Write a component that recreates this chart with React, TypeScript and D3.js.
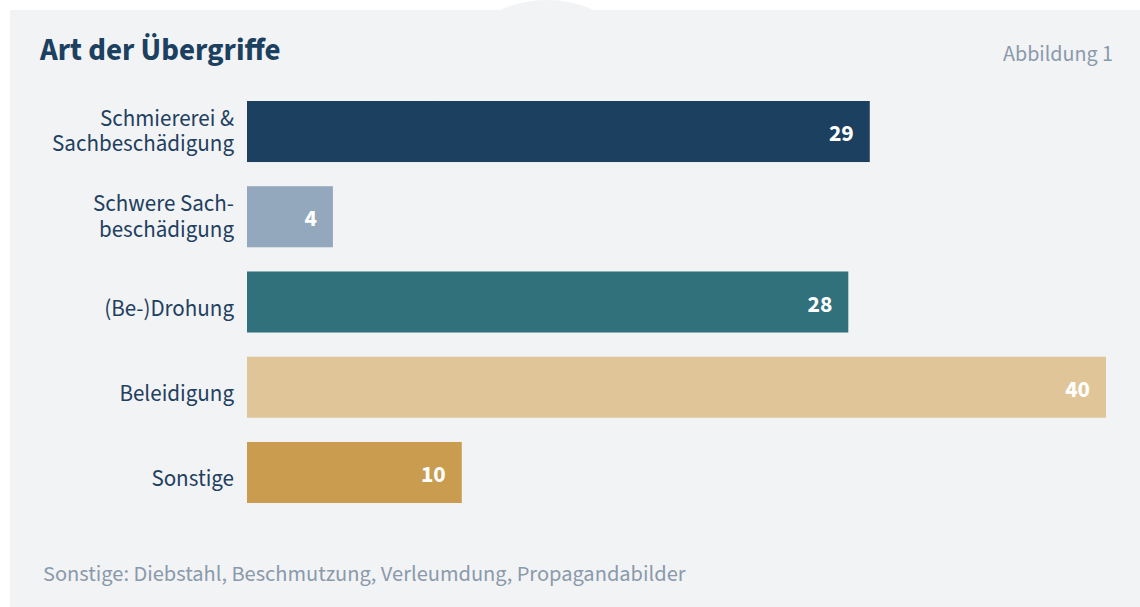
import React from "react";
import * as d3 from "d3";

const categories: string[][] = [
  ["Schmiererei &", "Sachbeschädigung"],
  ["Schwere Sach-", "beschädigung"],
  ["(Be-)Drohung"],
  ["Beleidigung"],
  ["Sonstige"],
];
const values: number[] = [29, 4, 28, 40, 10];
const colors: string[] = ["#1c4060", "#93a8bc", "#30717b", "#e0c598", "#c99c4f"];
const title = "Art der Übergriffe";
const figureLabel = "Abbildung 1";
const footnote = "Sonstige: Diebstahl, Beschmutzung, Verleumdung, Propagandabilder";

const W = 1140;
const H = 607;
const FONT = "'Source Sans Pro', 'Source Sans 3', Lato, 'Noto Sans', sans-serif";

export default function App() {
  const ids = categories.map((_, i) => String(i));
  const x = d3.scaleLinear().domain([0, 40]).range([247, 1106]);
  const y = d3
    .scaleBand<string>()
    .domain(ids)
    .range([88.9, 515.1])
    .paddingInner(0.284)
    .paddingOuter(0.142);

  return (
    <svg
      width={W}
      height={H}
      style={{ position: "absolute", left: 0, top: 0, background: "#ffffff" }}
      fontFamily={FONT}
    >
      <rect x={10} y={10} width={W - 10} height={H - 10} fill="#f2f3f5" />
      <circle cx={547} cy={115} r={115} fill="#f2f3f5" />
      <text x={40} y={60} fontSize={31} fontWeight={700} fill="#1c4060">
        {title}
      </text>
      <text x={1113} y={61} fontSize={22} textAnchor="end" fill="#8a9aab">
        {figureLabel}
      </text>
      {values.map((v, i) => {
        const yy = y(ids[i])!;
        const bh = y.bandwidth();
        const cy = yy + bh / 2;
        const lines = categories[i];
        const lh = 25.5;
        const off = lines.length === 1 ? 13.5 : 7;
        const y0 = cy + off - ((lines.length - 1) / 2) * lh;
        return (
          <g key={i}>
            <rect x={x(0)} y={yy} width={x(v) - x(0)} height={bh} fill={colors[i]} />
            <text
              x={x(v) - 16}
              y={cy + 9.5}
              textAnchor="end"
              fontSize={23.5}
              fontWeight={700}
              fill="#ffffff"
            >
              {v}
            </text>
            <text x={234} y={y0} textAnchor="end" fontSize={23} fill="#1f4060">
              {lines.map((ln, j) => (
                <tspan key={j} x={234} dy={j === 0 ? 0 : lh}>
                  {ln}
                </tspan>
              ))}
            </text>
          </g>
        );
      })}
      <text x={43} y={581} fontSize={22.4} fill="#8a9aab">
        {footnote}
      </text>
    </svg>
  );
}
